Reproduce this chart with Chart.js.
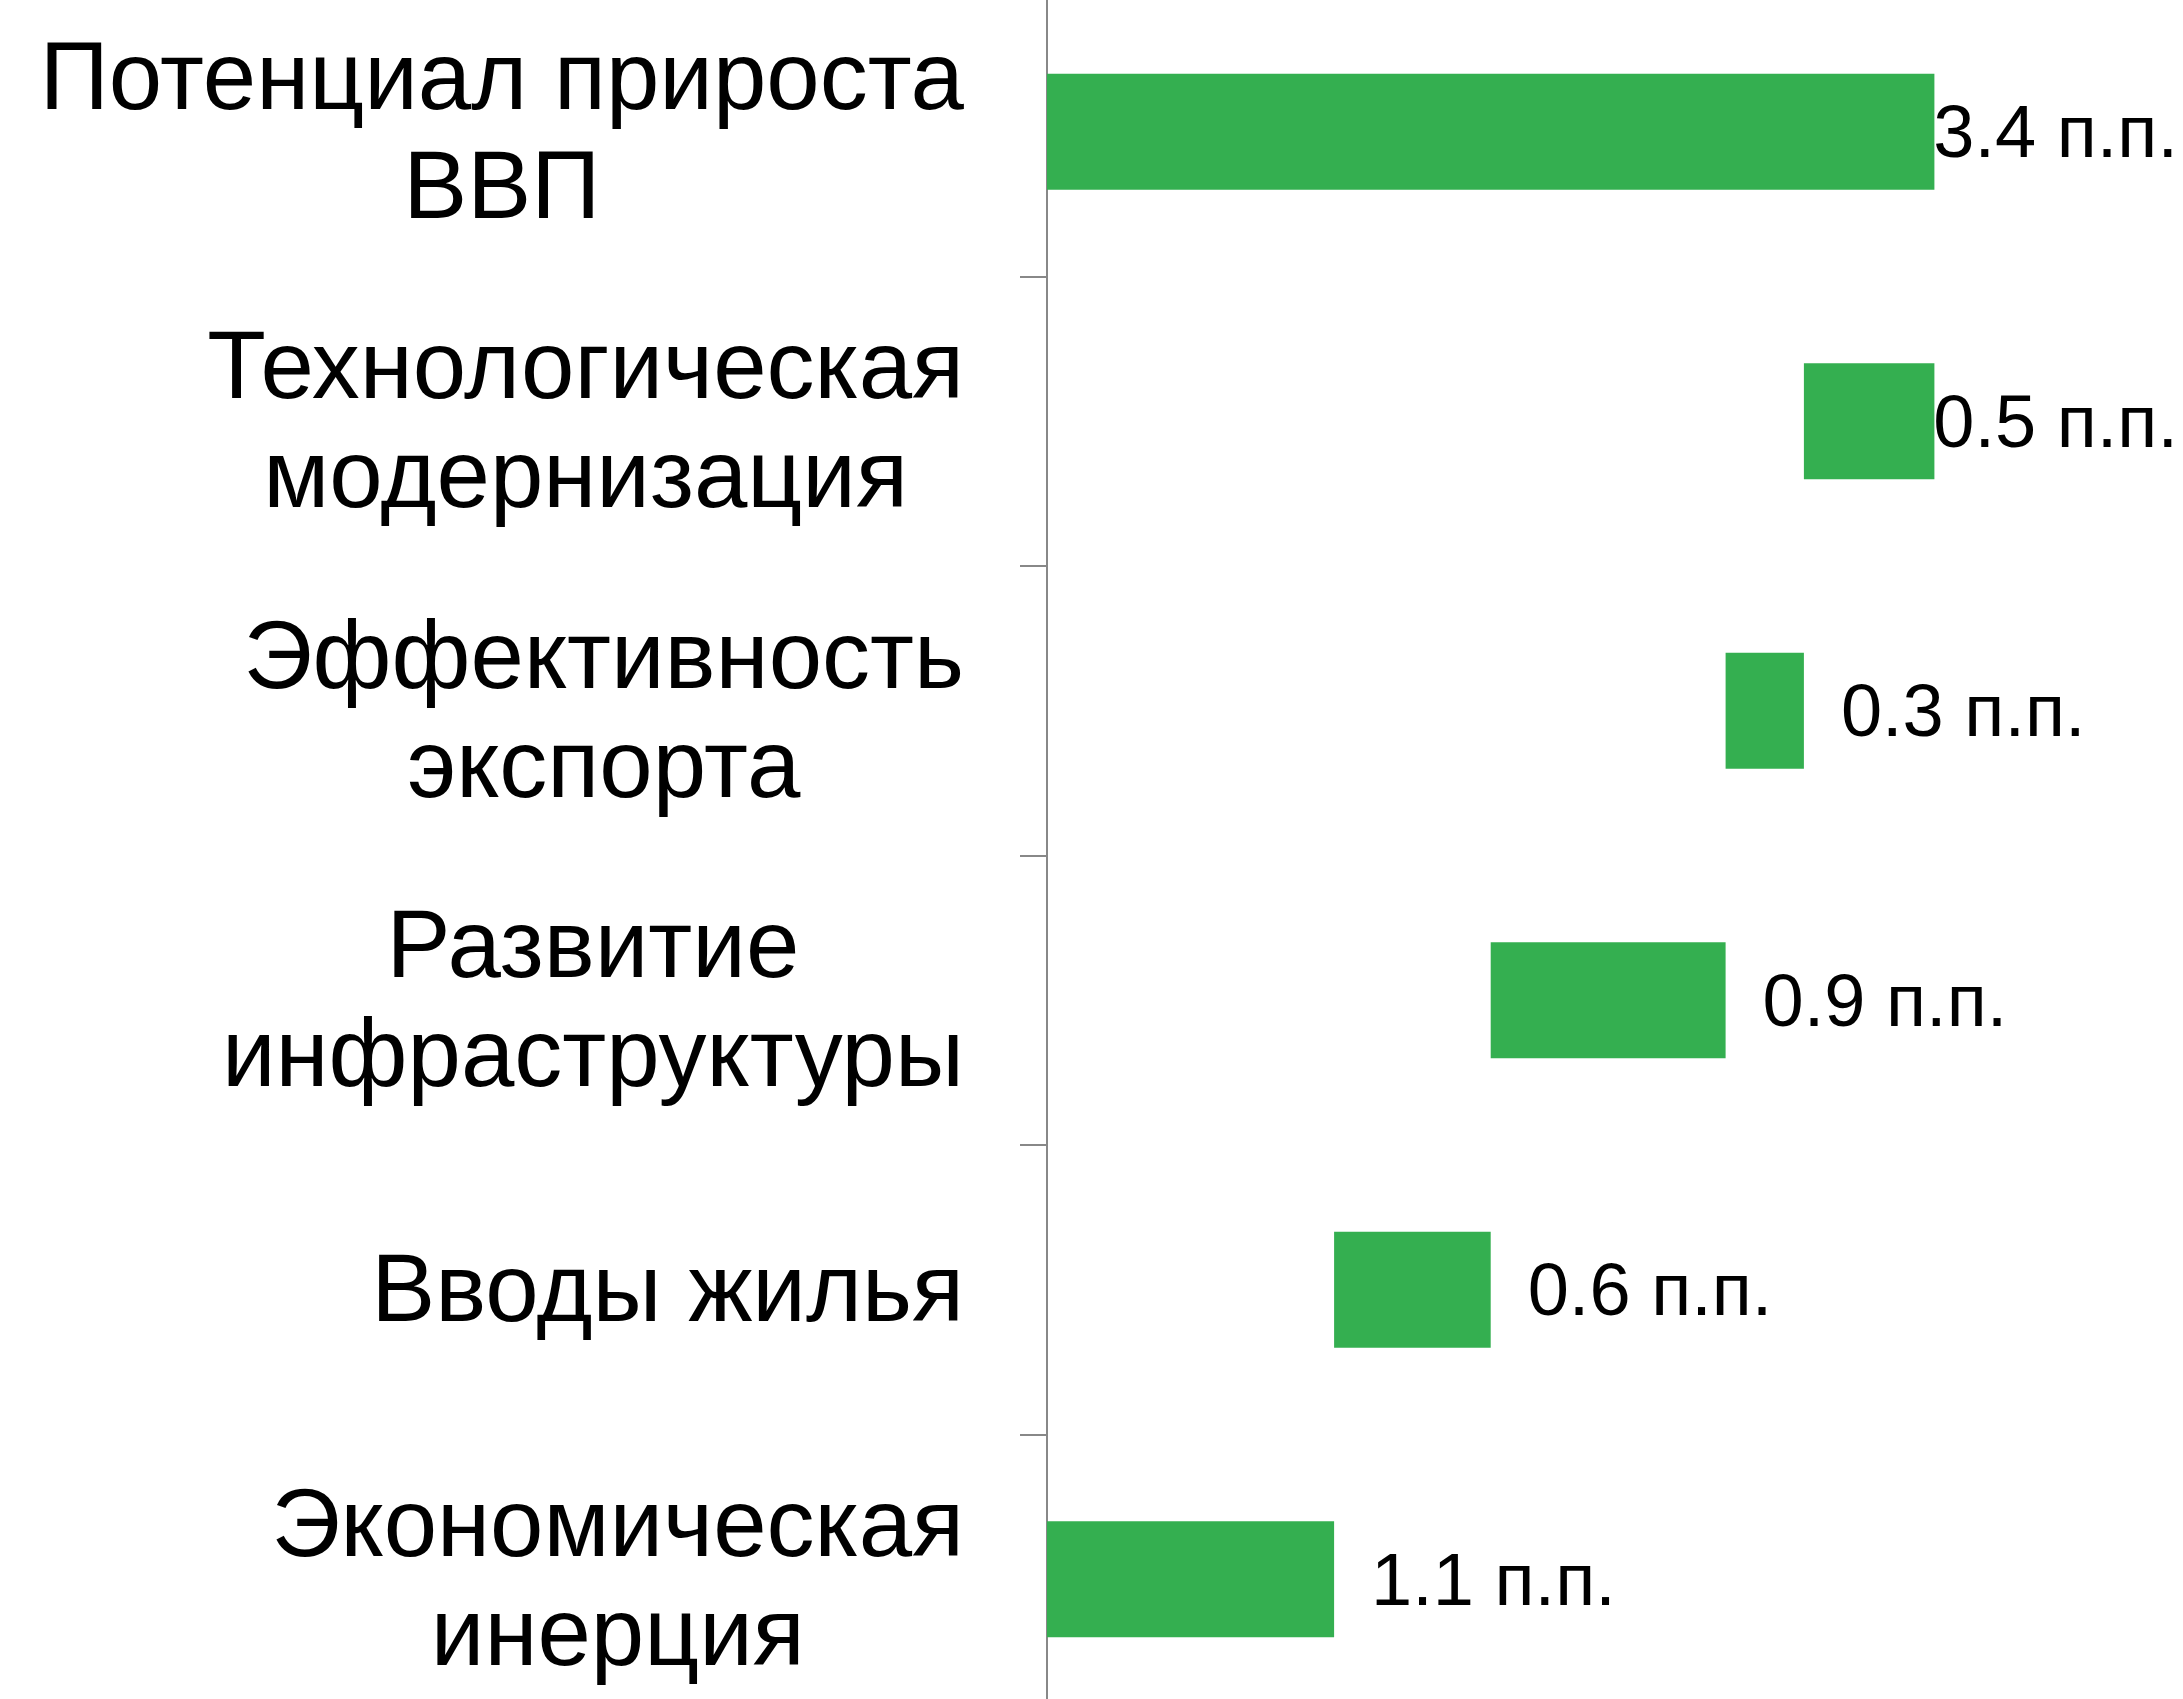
<!DOCTYPE html>
<html lang="ru">
<head>
<meta charset="utf-8">
<title>Вклад факторов в потенциал прироста ВВП</title>
<script src="https://cdn.jsdelivr.net/npm/chart.js@4.4.1/dist/chart.umd.min.js"></script>
<style>
  html, body { margin: 0; padding: 0; background: #ffffff; overflow: hidden; }
  body { width: 2183px; height: 1699px; position: relative; }
  #wrap { position: absolute; left: 0; top: -13px; width: 2183px; height: 1737px; }
  canvas { display: block; }
</style>
</head>
<body>
<div id="wrap"><canvas id="chart" width="2183" height="1737"></canvas></div>
<script>
// ---- Data ----
const categories = [
  ['Потенциал прироста', 'ВВП'],
  ['Технологическая', 'модернизация'],
  ['Эффективность', 'экспорта'],
  ['Развитие', 'инфраструктуры'],
  ['Вводы жилья'],
  ['Экономическая', 'инерция']
];
const contributions = [3.4, 0.5, 0.3, 0.9, 0.6, 1.1];   // bar lengths, п.п.
const barStarts = [0, 2.9, 2.6, 1.7, 1.1, 0];            // waterfall bases
const valueUnit = 'п.п.';
const axisMin = 0;
const axisMax = 4;

// ---- Styling ----
const GREEN = 'rgb(52,175,80)';
const AXIS_GREY = '#888888';
const FONT_FAMILY = "'Liberation Sans', Arial, Helvetica, sans-serif";
const CAT_FONT_SIZE = 96;
const CAT_LINE_HEIGHT = 109;
const VAL_FONT_SIZE = 74;
const TEXT_SHIFT = 5;

const floatingData = barStarts.map((s, i) => [s, Math.round((s + contributions[i]) * 10) / 10]);

// Category labels: each block right-aligned, lines centred inside the block
const categoryLabelPlugin = {
  id: 'categoryLabels',
  afterDraw(chart) {
    const ctx = chart.ctx;
    const yScale = chart.scales.y;
    const rightEdge = yScale.right - 83;
    ctx.save();
    ctx.font = CAT_FONT_SIZE + 'px ' + FONT_FAMILY;
    ctx.fillStyle = '#000000';
    ctx.textAlign = 'center';
    ctx.textBaseline = 'middle';
    categories.forEach((lines, i) => {
      const cy = yScale.getPixelForValue(i) + TEXT_SHIFT;
      const widest = Math.max(...lines.map(l => ctx.measureText(l).width));
      const cx = rightEdge - widest / 2;
      lines.forEach((line, j) => {
        const y = cy + (j - (lines.length - 1) / 2) * CAT_LINE_HEIGHT;
        ctx.fillText(line, cx, y);
      });
    });
    ctx.restore();
  }
};

// Value labels to the right of each bar, kept inside the canvas
const valueLabelPlugin = {
  id: 'valueLabels',
  afterDatasetsDraw(chart) {
    const ctx = chart.ctx;
    const meta = chart.getDatasetMeta(0);
    ctx.save();
    ctx.font = VAL_FONT_SIZE + 'px ' + FONT_FAMILY;
    ctx.fillStyle = '#000000';
    ctx.textAlign = 'left';
    ctx.textBaseline = 'middle';
    meta.data.forEach((bar, i) => {
      const text = contributions[i].toFixed(1) + ' ' + valueUnit;
      const w = ctx.measureText(text).width;
      const end = Math.max(bar.x, bar.base);
      const x = Math.min(end + 37, chart.width - w - 5);
      ctx.fillText(text, x, bar.y + TEXT_SHIFT);
    });
    ctx.restore();
  }
};

new Chart(document.getElementById('chart'), {
  type: 'bar',
  data: {
    labels: categories,
    datasets: [{
      data: floatingData,
      backgroundColor: GREEN,
      borderWidth: 0,
      borderSkipped: false,
      barPercentage: 0.4,
      categoryPercentage: 1.0
    }]
  },
  options: {
    indexAxis: 'y',
    responsive: false,
    maintainAspectRatio: false,
    devicePixelRatio: 1,
    animation: false,
    layout: { padding: { left: 0, right: 92, top: 0, bottom: 0 } },
    plugins: {
      legend: { display: false },
      tooltip: { enabled: false },
      title: { display: false }
    },
    scales: {
      x: {
        display: false,
        min: axisMin,
        max: axisMax
      },
      y: {
        position: 'left',
        offset: true,
        grid: {
          offset: true,
          drawOnChartArea: false,
          drawTicks: true,
          tickLength: 27,
          color: AXIS_GREY,
          lineWidth: 2
        },
        border: { display: true, color: AXIS_GREY, width: 2 },
        ticks: { display: false },
        afterFit(scale) { scale.width = 1047; }
      }
    }
  },
  plugins: [categoryLabelPlugin, valueLabelPlugin]
});
</script>
</body>
</html>
